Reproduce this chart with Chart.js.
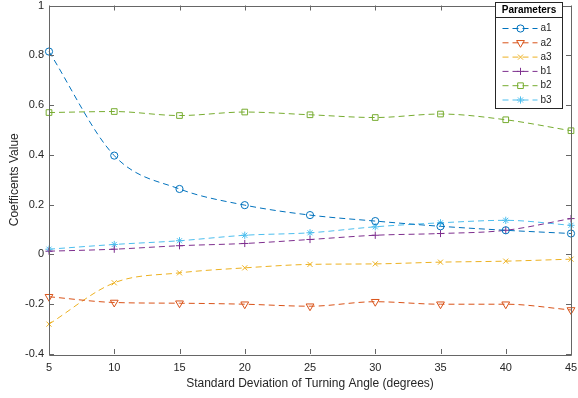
<!DOCTYPE html>
<html>
<head>
<meta charset="utf-8">
<script src="https://cdn.jsdelivr.net/npm/chart.js@4.4.1/dist/chart.umd.min.js"></script>
<style>
  html, body { margin: 0; padding: 0; background: #fff; }
  #wrap { width: 578px; height: 398px; position: relative; }
</style>
</head>
<body>
<div id="wrap"><canvas id="coefChart"></canvas></div>
<script>
"use strict";

// x positions (std dev of turning angle) and tick labels
var angles = [5, 10, 15, 20, 25, 30, 35, 40, 45];
var xTicks = [5, 10, 15, 20, 25, 30, 35, 40, 45];
var yTicks = [-0.4, -0.2, 0, 0.2, 0.4, 0.6, 0.8, 1];

// series values
var a1 = [0.815, 0.397, 0.263, 0.198, 0.158, 0.134, 0.113, 0.097, 0.084];
var a2 = [-0.170, -0.193, -0.196, -0.200, -0.208, -0.190, -0.200, -0.200, -0.223];
var a3 = [-0.280, -0.114, -0.074, -0.054, -0.040, -0.038, -0.031, -0.027, -0.019];
var b1 = [0.013, 0.021, 0.035, 0.044, 0.060, 0.077, 0.084, 0.097, 0.144];
var b2 = [0.570, 0.574, 0.558, 0.572, 0.561, 0.550, 0.564, 0.541, 0.497];
var b3 = [0.021, 0.040, 0.055, 0.077, 0.087, 0.111, 0.127, 0.137, 0.117];

var FONT = "'Liberation Sans', Arial, Helvetica, sans-serif";
var AXIS = "#666666";
var TEXT = "#262626";

var seriesDefs = [
    { label: "a1", data: a1, color: "#0072BD", style: "circle", rot: 0 },
    { label: "a2", data: a2, color: "#D95319", style: "triangle", rot: 180 },
    { label: "a3", data: a3, color: "#EDB120", style: "crossRot", rot: 0 },
    { label: "b1", data: b1, color: "#7E2F8E", style: "cross", rot: 0 },
    { label: "b2", data: b2, color: "#77AC30", style: "rect", rot: 0 },
    { label: "b3", data: b3, color: "#4DBEEE", style: "star", rot: 0 }
];

function toPoints(values) {
    var pts = [];
    for (var i = 0; i < angles.length; i++) pts.push({ x: angles[i], y: values[i] });
    return pts;
}

function markerRadius(style) {
    if (style === "triangle") return 4.5;
    if (style === "rect") return 4;
    return 3.6;
}

var datasets = seriesDefs.map(function(s) {
    return {
        label: s.label,
        data: toPoints(s.data),
        borderColor: s.color,
        backgroundColor: "transparent",
        borderWidth: 1,
        borderDash: [6, 4],
        cubicInterpolationMode: "monotone",
        pointStyle: s.style,
        pointRotation: s.rot,
        pointRadius: markerRadius(s.style),
        pointBorderWidth: 1,
        pointBorderColor: s.color,
        pointBackgroundColor: "transparent",
        fill: false,
        clip: false
    };
});

function fmtTick(v) {
    var r = Math.round(v * 10) / 10;
    return String(r);
}

// MATLAB-like box with inward tick marks on all four sides
var boxAxes = {
    id: "boxAxes",
    afterDatasetsDraw: function(chart) {
        var ctx = chart.ctx, a = chart.chartArea;
        var xs = chart.scales.x, ys = chart.scales.y;
        var len = 5;
        ctx.save();
        ctx.strokeStyle = AXIS;
        ctx.lineWidth = 1;
        ctx.beginPath();
        ctx.rect(Math.round(a.left) + 0.5, Math.round(a.top) + 0.5,
            Math.round(a.right - a.left), Math.round(a.bottom - a.top));
        xTicks.forEach(function(t) {
            var px = Math.round(xs.getPixelForValue(t)) + 0.5;
            ctx.moveTo(px, a.bottom); ctx.lineTo(px, a.bottom - len);
            ctx.moveTo(px, a.top); ctx.lineTo(px, a.top + len);
        });
        yTicks.forEach(function(t) {
            var py = Math.round(ys.getPixelForValue(t)) + 0.5;
            ctx.moveTo(a.left, py); ctx.lineTo(a.left + len, py);
            ctx.moveTo(a.right, py); ctx.lineTo(a.right - len, py);
        });
        ctx.stroke();
        ctx.restore();
    }
};

// legend box with title, drawn inside the top right corner
var boxLegend = {
    id: "boxLegend",
    afterDraw: function(chart) {
        var ctx = chart.ctx, a = chart.chartArea;
        var w = 67, h = 106;
        var x0 = Math.round(a.right - 9 - w) + 0.5;
        var y0 = Math.round(a.top - 4) + 0.5;
        ctx.save();
        ctx.fillStyle = "#ffffff";
        ctx.fillRect(x0, y0, w, h);
        ctx.strokeStyle = "#262626";
        ctx.lineWidth = 1;
        ctx.strokeRect(x0, y0, w, h);
        ctx.beginPath();
        ctx.moveTo(x0, y0 + 15); ctx.lineTo(x0 + w, y0 + 15);
        ctx.stroke();

        ctx.fillStyle = "#000000";
        ctx.font = "bold 10px " + FONT;
        ctx.textAlign = "center";
        ctx.textBaseline = "middle";
        ctx.fillText("Parameters", x0 + w / 2, y0 + 8);

        ctx.font = "10px " + FONT;
        ctx.textAlign = "left";
        seriesDefs.forEach(function(s, i) {
            var y = y0 + 26 + i * 14.3;
            ctx.save();
            ctx.strokeStyle = s.color;
            ctx.lineWidth = 1;
            ctx.setLineDash([6, 4]);
            ctx.beginPath();
            ctx.moveTo(x0 + 7, y); ctx.lineTo(x0 + 42, y);
            ctx.stroke();
            ctx.restore();
            ctx.save();
            ctx.strokeStyle = s.color;
            ctx.fillStyle = "transparent";
            ctx.lineWidth = 1;
            Chart.helpers.drawPoint(ctx, {
                pointStyle: s.style,
                rotation: s.rot,
                radius: markerRadius(s.style),
                borderWidth: 1
            }, x0 + 25, y);
            ctx.restore();
            ctx.fillStyle = TEXT;
            ctx.fillText(s.label, x0 + 45, y);
        });
        ctx.restore();
    }
};

var ctx = document.getElementById("coefChart").getContext("2d");
var chart = new Chart(ctx, {
    type: "line",
    data: { datasets: datasets },
    plugins: [boxAxes, boxLegend],
    options: {
        responsive: true,
        maintainAspectRatio: false,
        animation: false,
        layout: { padding: { left: 0, right: 7, top: 5, bottom: 0 } },
        plugins: {
            legend: { display: false },
            tooltip: { enabled: false }
        },
        scales: {
            x: {
                type: "linear",
                min: 5,
                max: 45,
                afterBuildTicks: function(scale) {
                    scale.ticks = xTicks.map(function(v) { return { value: v }; });
                },
                afterFit: function(scale) {
                    scale.height = 44;
                    scale.paddingLeft = 0;
                    scale.paddingRight = 0;
                },
                grid: { display: false, drawTicks: false },
                border: { display: false },
                ticks: {
                    padding: 7,
                    color: TEXT,
                    font: { family: FONT, size: 11 },
                    maxRotation: 0,
                    callback: function(v) { return String(v); }
                },
                title: {
                    display: true,
                    text: "Standard Deviation of Turning Angle (degrees)",
                    color: TEXT,
                    font: { family: FONT, size: 12 },
                    padding: { top: 0, bottom: 7 }
                }
            },
            y: {
                min: -0.4,
                max: 1,
                afterBuildTicks: function(scale) {
                    scale.ticks = yTicks.map(function(v) { return { value: v }; });
                },
                afterFit: function(scale) {
                    scale.width = 49;
                    scale.paddingTop = 0;
                    scale.paddingBottom = 0;
                },
                grid: { display: false, drawTicks: false },
                border: { display: false },
                ticks: {
                    padding: 5,
                    color: TEXT,
                    font: { family: FONT, size: 11 },
                    callback: function(v) { return fmtTick(v); }
                },
                title: {
                    display: true,
                    text: "Coefficents Value",
                    color: TEXT,
                    font: { family: FONT, size: 12 },
                    padding: { top: 7, bottom: 0 }
                }
            }
        }
    }
});
</script>
</body>
</html>
